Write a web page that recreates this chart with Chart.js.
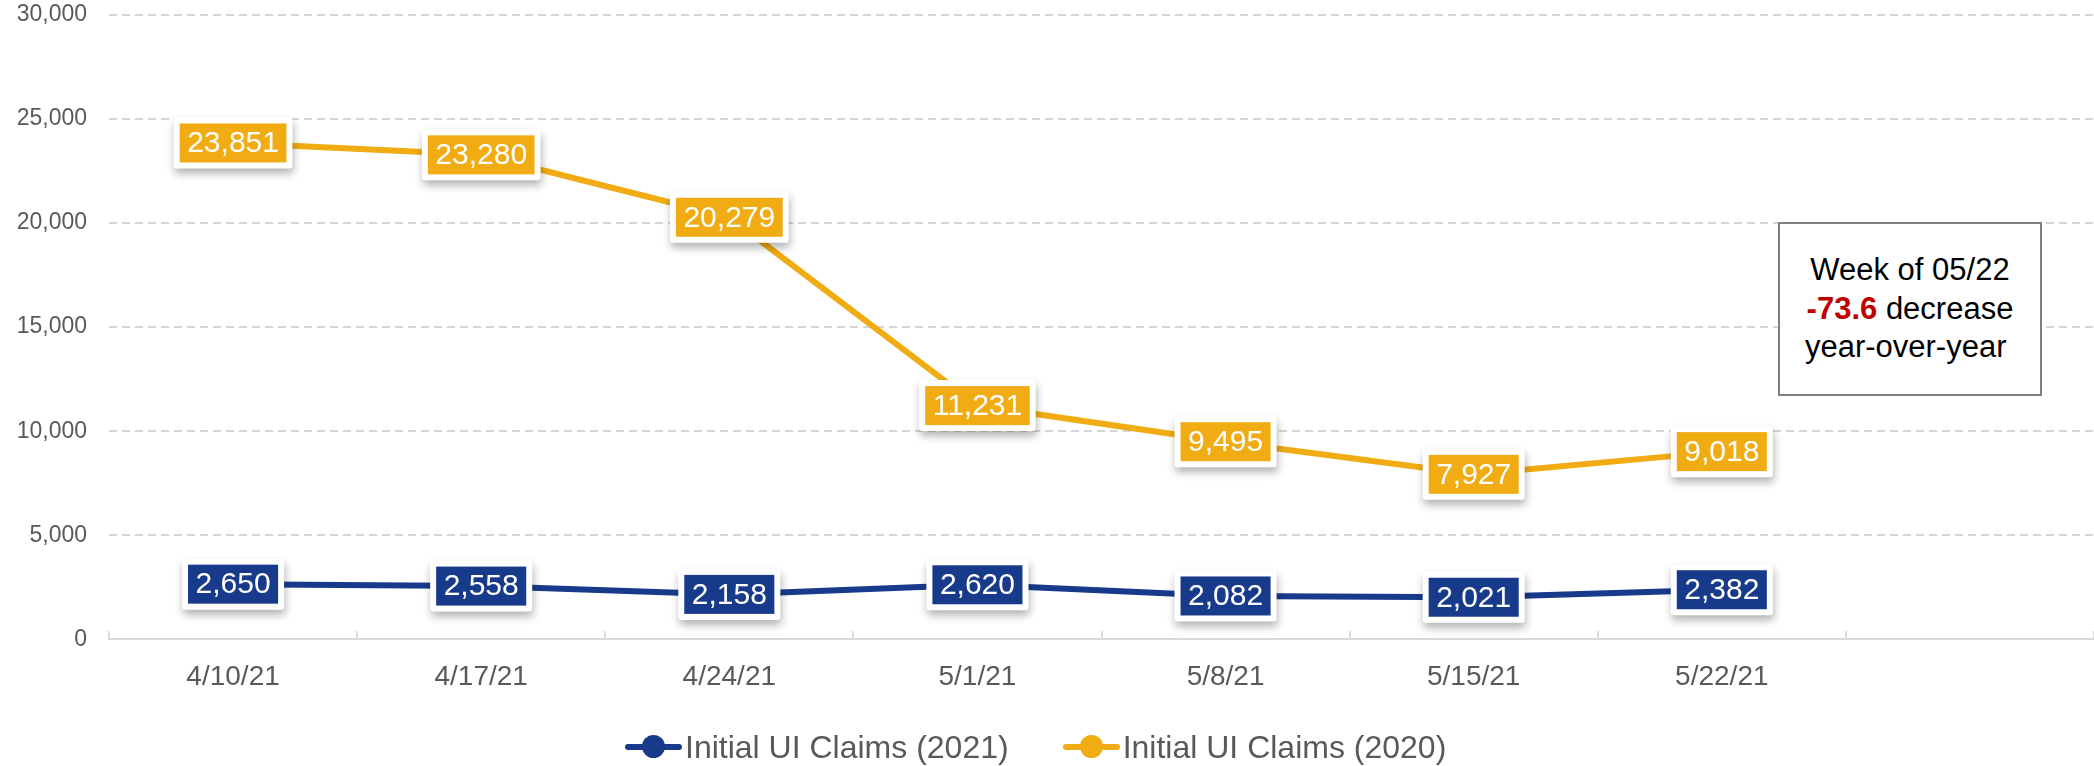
<!DOCTYPE html>
<html>
<head>
<meta charset="utf-8">
<script src="https://cdn.jsdelivr.net/npm/chart.js@4.4.1/dist/chart.umd.min.js"></script>
<style>
  html, body { margin: 0; padding: 0; background: #fff; }
  #wrap { position: relative; width: 2094px; height: 766px; font-family: Arial, 'Liberation Sans', sans-serif; }
  #chart { position: absolute; left: 0; top: 0; }
  .note { position: absolute; left: 1778px; top: 222px; width: 260px; height: 170px; border: 2px solid #808080; background: #fff;
          display: flex; align-items: center; justify-content: center; text-align: center; font-size: 31px; line-height: 38.5px; color: #000; }
  .note b { color: #c00000; }
  #legend { position: absolute; left: 625px; top: 727px; height: 40px; display: flex; align-items: center; font-size: 32px; color: #595959; }
  .item { display: flex; align-items: center; margin-right: 54px; }
  .mark { position: relative; width: 57px; height: 24px; margin-right: 3px; }
  .mark .ln { position: absolute; left: 0; right: 0; top: 9px; height: 6px; border-radius: 3px; }
  .mark .dot { position: absolute; left: 17px; top: 0; width: 23px; height: 23px; border-radius: 50%; }
</style>
</head>
<body>
<div id="wrap">
  <canvas id="chart" width="2094" height="766"></canvas>
  <div class="note"><div>Week of 05/22<br><b>-73.6</b> decrease<br>year-over-year&nbsp;</div></div>
  <div id="legend"></div>
</div>
<script>
const weeks = ['4/10/21', '4/17/21', '4/24/21', '5/1/21', '5/8/21', '5/15/21', '5/22/21', ''];
const claims2021 = [2650, 2558, 2158, 2620, 2082, 2021, 2382];
const claims2020 = [23851, 23280, 20279, 11231, 9495, 7927, 9018];
const yMax = 30000;
const yStep = 5000;

const blue = '#183a8b';
const gold = '#f1ac13';
const fontFamily = "Arial, 'Liberation Sans', sans-serif";

Chart.defaults.font.family = fontFamily;
Chart.defaults.color = '#595959';

// boxed value labels centred on each point
const boxLabels = {
    id: 'boxLabels',
    afterDatasetsDraw(chart) {
        const ctx = chart.ctx;
        ctx.save();
        ctx.font = '30px ' + fontFamily;
        ctx.textAlign = 'center';
        ctx.textBaseline = 'middle';
        chart.data.datasets.forEach((ds, i) => {
            const meta = chart.getDatasetMeta(i);
            meta.data.forEach((pt, j) => {
                const v = ds.data[j];
                if (v == null) return;
                const text = v.toLocaleString('en-US');
                const w = ctx.measureText(text).width + 15;
                const h = 39;
                const x = pt.x - w / 2;
                const y = pt.y - h / 2;
                ctx.save();
                ctx.shadowColor = 'rgba(0,0,0,0.3)';
                ctx.shadowBlur = 9;
                ctx.shadowOffsetX = 1;
                ctx.shadowOffsetY = 5;
                ctx.fillStyle = '#fff';
                ctx.beginPath();
                ctx.roundRect(x - 6, y - 6, w + 12, h + 12, 3);
                ctx.fill();
                ctx.restore();
                ctx.fillStyle = ds.borderColor;
                ctx.fillRect(x, y, w, h);
                ctx.fillStyle = '#fff';
                ctx.fillText(text, pt.x, pt.y + 1);
            });
        });
        ctx.restore();
    }
};

// small tick marks pointing up from the x axis, between categories
const innerTicks = {
    id: 'innerTicks',
    beforeDatasetsDraw(chart) {
        const xs = chart.scales.x;
        const ctx = chart.ctx;
        const half = (xs.getPixelForValue(1) - xs.getPixelForValue(0)) / 2;
        const base = chart.chartArea.bottom;
        ctx.save();
        ctx.strokeStyle = '#d9d9d9';
        ctx.lineWidth = 2;
        for (let i = 0; i <= weeks.length; i++) {
            const x = Math.round(xs.getPixelForValue(i) - half);
            ctx.beginPath();
            ctx.moveTo(x, base);
            ctx.lineTo(x, base - 8);
            ctx.stroke();
        }
        ctx.restore();
    }
};

const chart = new Chart(document.getElementById('chart'), {
    type: 'line',
    data: {
        labels: weeks,
        datasets: [
            {
                label: 'Initial UI Claims (2021)',
                data: claims2021,
                borderColor: blue,
                backgroundColor: blue,
                borderWidth: 6,
                pointRadius: 0,
                tension: 0,
                fill: false,
            },
            {
                label: 'Initial UI Claims (2020)',
                data: claims2020,
                borderColor: gold,
                backgroundColor: gold,
                borderWidth: 6,
                pointRadius: 0,
                tension: 0,
                fill: false,
            },
        ],
    },
    options: {
        responsive: false,
        animation: false,
        layout: { padding: { top: 15, left: 0, right: 0, bottom: 66.7 } },
        plugins: {
            legend: { display: false },
            tooltip: { enabled: false },
        },
        scales: {
            x: {
                offset: true,
                grid: { display: true, drawOnChartArea: false, drawTicks: false, offset: true },
                border: { display: true, color: '#d9d9d9', width: 2 },
                ticks: { font: { size: 28 }, color: '#595959', padding: 21, maxRotation: 0, autoSkip: false },
                afterFit(scale) { scale.height = 60; },
            },
            y: {
                min: 0,
                max: yMax,
                grid: {
                    drawTicks: false,
                    lineWidth: 2,
                    color: (c) => (c.tick && c.tick.value === 0 ? 'rgba(0,0,0,0)' : '#d6d6d6'),
                },
                border: { display: false, dash: [8, 5] },
                ticks: { stepSize: yStep, font: { size: 23 }, color: '#595959', padding: 22 },
                afterFit(scale) {
                    scale.width = 109;
                    scale.paddingTop = 0;
                    scale.paddingBottom = 0;
                },
            },
        },
    },
    plugins: [innerTicks, boxLabels],
});

// html legend built from the datasets
const legendEl = document.getElementById('legend');
chart.data.datasets.forEach((ds) => {
    const item = document.createElement('div');
    item.className = 'item';
    item.innerHTML = '<span class="mark"><span class="ln"></span><span class="dot"></span></span>';
    item.querySelector('.ln').style.background = ds.borderColor;
    item.querySelector('.dot').style.background = ds.borderColor;
    const label = document.createElement('span');
    label.textContent = ds.label;
    item.appendChild(label);
    legendEl.appendChild(item);
});
</script>
</body>
</html>
